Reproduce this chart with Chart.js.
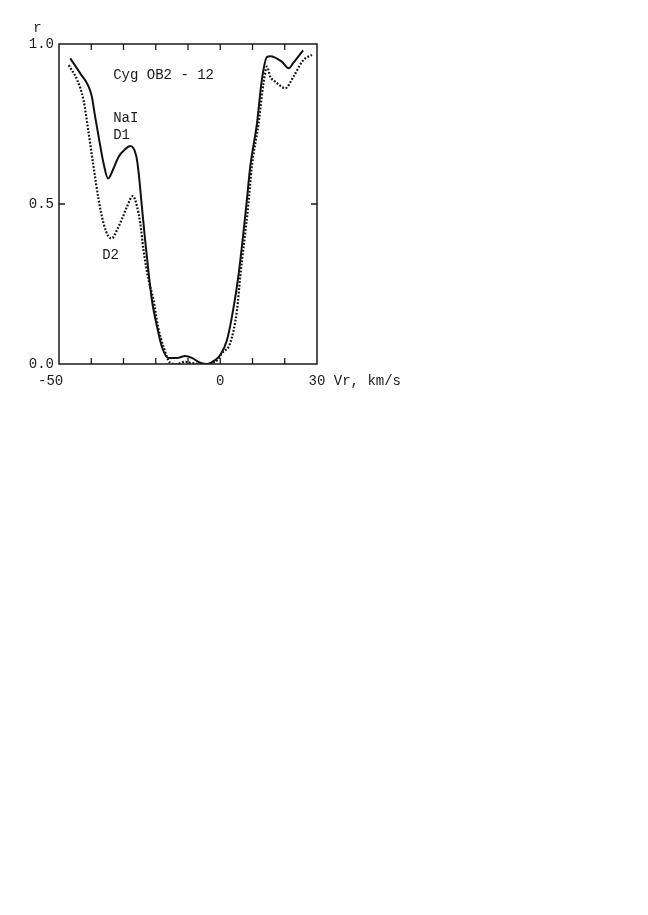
<!DOCTYPE html>
<html>
<head>
<meta charset="utf-8">
<script src="https://cdn.jsdelivr.net/npm/chart.js@4.4.1/dist/chart.umd.min.js"></script>
<style>
  body { margin: 0; background: #fff; }
  canvas { display: block; }
</style>
</head>
<body>
<canvas id="profile" width="648" height="915"></canvas>
<script>
// NaI D1 (solid) and D2 (dotted) residual intensity vs radial velocity
var d1Vel = [-46.5, -43.4, -40.8, -39.8, -38.8, -37.7, -36.2, -34.8, -33.1, -31.5, -29.6, -27.9, -26.0, -25.3, -24.3, -23.3, -22.2, -21.2, -19.6, -18.1, -16.1, -13.4, -10.9, -8.8, -6.2, -4.1, -1.6, 0, 2.1, 4.0, 5.6, 8.1, 9.3, 11.4, 12.9, 14.5, 15.5, 19.1, 21.2, 22.6, 25.7];
var d1Int = [0.955, 0.908, 0.867, 0.835, 0.773, 0.71, 0.628, 0.58, 0.611, 0.648, 0.67, 0.681, 0.648, 0.597, 0.492, 0.388, 0.284, 0.2, 0.117, 0.054, 0.019, 0.019, 0.025, 0.019, 0.004, 0.0, 0.012, 0.028, 0.075, 0.169, 0.273, 0.497, 0.617, 0.753, 0.888, 0.96, 0.962, 0.945, 0.924, 0.94, 0.98];

var d2Vel = [-47.0, -44.4, -42.4, -40.8, -39.3, -37.7, -36.2, -34.6, -33.6, -32.0, -30.4, -28.9, -27.1, -25.8, -24.8, -23.8, -22.2, -20.7, -19.3, -17.6, -15.5, -13.4, -10.9, -8.8, -6.2, -3.6, -1.0, 0.5, 3.1, 5.2, 6.2, 8.7, 9.8, 11.9, 13.4, 14.5, 15.5, 17.1, 20.2, 22.7, 25.8, 28.4];
var d2Int = [0.934, 0.888, 0.825, 0.721, 0.617, 0.513, 0.44, 0.398, 0.393, 0.419, 0.455, 0.492, 0.525, 0.492, 0.44, 0.356, 0.262, 0.2, 0.117, 0.054, 0.004, 0.0, 0.007, 0.003, 0.0, 0.0, 0.012, 0.034, 0.066, 0.169, 0.273, 0.497, 0.617, 0.753, 0.877, 0.929, 0.898, 0.882, 0.862, 0.898, 0.95, 0.966];

var xTicks = [-50, 0, 30];
var yTicks = [0, 0.5, 1];

// text notes placed in data units
var notes = [
  { text: 'Cyg OB2 - 12', x: -33.2, y: 0.903 },
  { text: 'NaI', x: -33.2, y: 0.769 },
  { text: 'D1', x: -33.2, y: 0.716 },
  { text: 'D2', x: -36.6, y: 0.34 }
];

var FONT = '14px "Liberation Mono", "DejaVu Sans Mono", monospace';
var INK = '#1a1a1a';

function toPoints(xs, ys) {
  return xs.map(function (v, i) { return { x: v, y: ys[i] }; });
}

var frame = {
  id: 'frame',
  afterDraw: function (chart) {
    var c = chart.ctx, a = chart.chartArea;
    var xs = chart.scales.x, ys = chart.scales.y;
    c.save();
    c.strokeStyle = INK;
    c.lineWidth = 1.5;
    c.strokeRect(a.left, a.top, a.right - a.left, a.bottom - a.top);

    // inward tick marks
    c.lineWidth = 1.3;
    c.beginPath();
    for (var v = -40; v < 30; v += 10) {
      var px = xs.getPixelForValue(v);
      c.moveTo(px, a.bottom); c.lineTo(px, a.bottom - 6);
      c.moveTo(px, a.top); c.lineTo(px, a.top + 6);
    }
    var py = ys.getPixelForValue(0.5);
    c.moveTo(a.left, py); c.lineTo(a.left + 6, py);
    c.moveTo(a.right, py); c.lineTo(a.right - 6, py);
    c.stroke();

    c.fillStyle = INK;
    c.font = FONT;
    c.textBaseline = 'middle';
    c.textAlign = 'left';
    notes.forEach(function (n) {
      c.fillText(n.text, xs.getPixelForValue(n.x), ys.getPixelForValue(n.y));
    });
    // y axis name
    c.textAlign = 'center';
    c.fillText('r', xs.getPixelForValue(-56.7), ys.getPixelForValue(1.05));
    c.restore();
  }
};

new Chart(document.getElementById('profile'), {
  type: 'scatter',
  data: {
    datasets: [
      {
        label: 'D1',
        data: toPoints(d1Vel, d1Int),
        showLine: true,
        borderColor: '#111',
        borderWidth: 2,
        pointRadius: 0,
        cubicInterpolationMode: 'monotone'
      },
      {
        label: 'D2',
        data: toPoints(d2Vel, d2Int),
        showLine: true,
        borderColor: '#111',
        borderWidth: 2.2,
        borderDash: [1.8, 1.7],
        pointRadius: 0,
        cubicInterpolationMode: 'monotone'
      }
    ]
  },
  options: {
    responsive: false,
    animation: false,
    layout: { padding: { left: 0, top: 44, right: 331, bottom: 521 } },
    plugins: { legend: { display: false }, tooltip: { enabled: false } },
    scales: {
      x: {
        type: 'linear',
        min: -50,
        max: 30,
        grid: { display: false, drawTicks: false },
        border: { display: false },
        afterFit: function (s) { s.height = 30; },
        ticks: {
          stepSize: 10,
          autoSkip: false,
          maxRotation: 0,
          padding: 9,
          color: INK,
          font: { family: '"Liberation Mono", monospace', size: 14 },
          callback: function (v) {
            if (v === xTicks[0]) return '-50  ';
            if (v === xTicks[1]) return '0';
            if (v === xTicks[2]) return '         30 Vr, km/s';
            return '';
          }
        }
      },
      y: {
        min: 0,
        max: 1,
        grid: { display: false, drawTicks: false },
        border: { display: false },
        afterFit: function (s) { s.width = 59; },
        ticks: {
          stepSize: 0.5,
          padding: 5,
          color: INK,
          font: { family: '"Liberation Mono", monospace', size: 14 },
          callback: function (v) {
            return yTicks.indexOf(v) >= 0 ? v.toFixed(1) : '';
          }
        }
      }
    }
  },
  plugins: [frame]
});
</script>
</body>
</html>
